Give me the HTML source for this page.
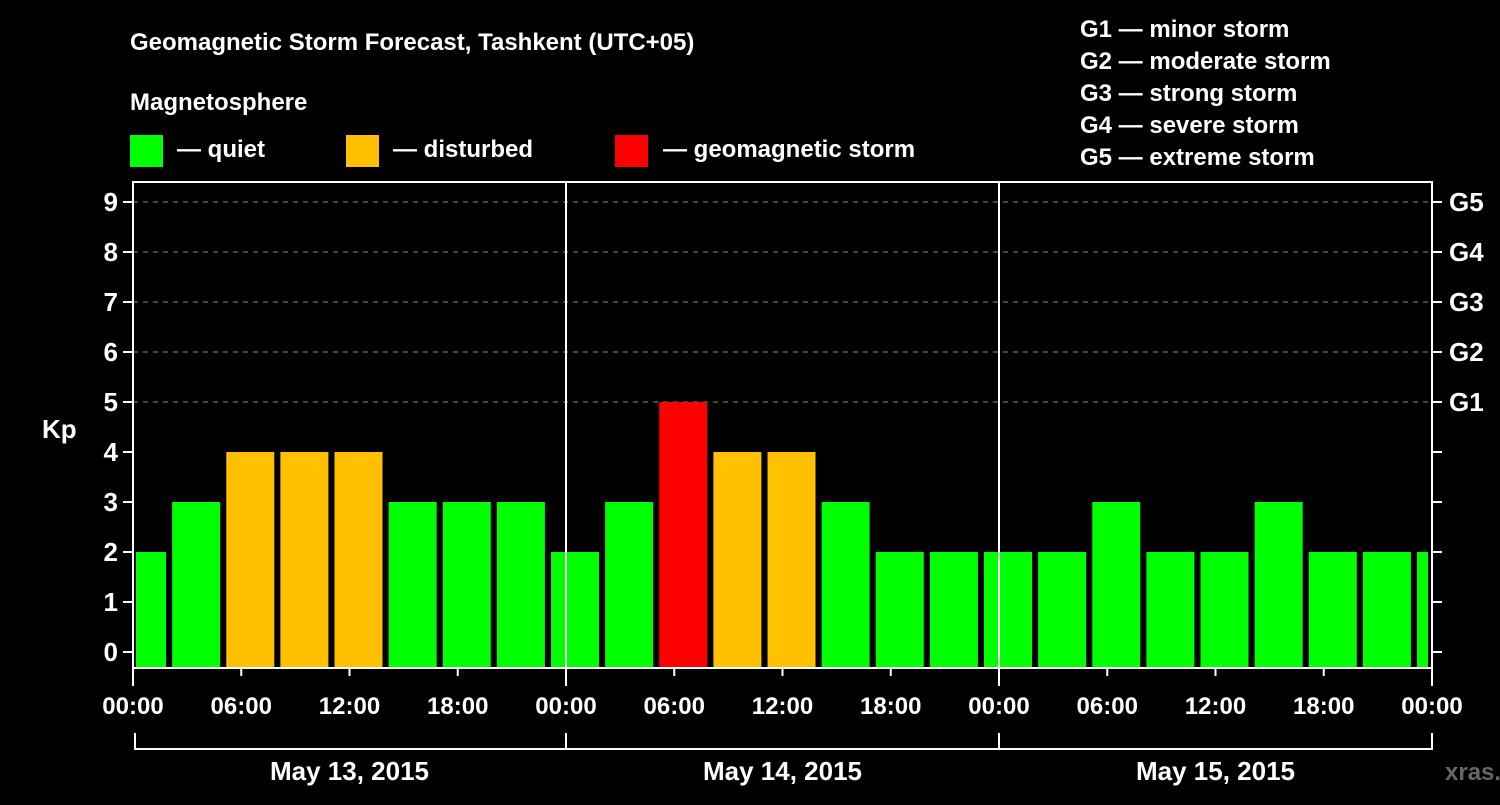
<!DOCTYPE html>
<html><head><meta charset="utf-8"><style>
body{margin:0;background:#000;width:1500px;height:800px;overflow:hidden}
svg text{font-family:"Liberation Sans",sans-serif;font-weight:bold;fill:#fff}
</style></head><body>
<svg width="1500" height="800">
<text x="130" y="50" font-size="24">Geomagnetic Storm Forecast, Tashkent (UTC+05)</text>
<text x="130" y="110" font-size="24">Magnetosphere</text>
<rect x="130" y="135" width="33" height="32" fill="#00ff00"/>
<text x="177" y="157" font-size="24">— quiet</text>
<rect x="346" y="135" width="33" height="32" fill="#ffc000"/>
<text x="393" y="157" font-size="24">— disturbed</text>
<rect x="615" y="135" width="33" height="32" fill="#ff0000"/>
<text x="663" y="157" font-size="24">— geomagnetic storm</text>
<g font-size="24">
<text x="1080" y="37">G1 — minor storm</text>
<text x="1080" y="69">G2 — moderate storm</text>
<text x="1080" y="101">G3 — strong storm</text>
<text x="1080" y="133">G4 — severe storm</text>
<text x="1080" y="165">G5 — extreme storm</text>
</g>
<text x="42" y="438" font-size="26">Kp</text>
<g id="plot"></g>
<text x="1445" y="780" font-size="24" fill="#666" style="fill:#666">xras.ru</text>
</svg>
<script>
const values=[2,3,4,4,4,3,3,3,2,3,5,4,4,3,2,2,2,2,3,2,2,3,2,2,2];
const yTicks=[0,1,2,3,4,5,6,7,8,9];
const gLabels=["G1","G2","G3","G4","G5"];
const xLabels=["00:00","06:00","12:00","18:00"];
const dayLabels=["May 13, 2015","May 14, 2015","May 15, 2015"];
const L=133,R=1432,T=182,B=668,NS="http://www.w3.org/2000/svg";
const dayW=(R-L)/3,hr=dayW/24;
const x=h=>L+h*hr, y=v=>652-50*v;
const g=document.getElementById('plot');
function mk(t,a,txt){const e=document.createElementNS(NS,t);for(const k in a)e.setAttribute(k,a[k]);if(txt!=null)e.textContent=txt;g.appendChild(e);return e;}
const cp=mk('clipPath',{id:'c'});cp.appendChild(Object.assign(document.createElementNS(NS,'rect'),{}));
cp.firstChild.setAttribute('x',L+3);cp.firstChild.setAttribute('y',T);cp.firstChild.setAttribute('width',R-L-7);cp.firstChild.setAttribute('height',B-T);
for(const v of [5,6,7,8,9]){const l=mk('line',{x1:L,x2:R,y1:y(v),y2:y(v),stroke:'#888','stroke-dasharray':'5,5'});

}
values.forEach((v,i)=>{const c=x(3*i+0.5);const r=mk('rect',{x:c-24,y:y(v),width:48,height:B-1-y(v),fill:v>=5?'#ff0000':v>=4?'#ffc000':'#00ff00','clip-path':'url(#c)'});

});
for(let d=1;d<3;d++){const l=mk('line',{x1:x(24*d),x2:x(24*d),y1:T,y2:B,stroke:'#fff','stroke-width':2});

}
const f=mk('rect',{x:L,y:T,width:R-L,height:B-T,fill:'none',stroke:'#fff','stroke-width':2});


yTicks.forEach(v=>{mk('line',{x1:L-10,x2:L,y1:y(v),y2:y(v),stroke:'#fff','stroke-width':2});mk('line',{x1:R,x2:R+10,y1:y(v),y2:y(v),stroke:'#fff','stroke-width':2});
const t=mk('text',{x:L-15,y:y(v)+9,'font-size':26,'text-anchor':'end'},v);

});
gLabels.forEach((s,i)=>{const t=mk('text',{x:R+17,y:y(5+i)+9,'font-size':26},s);

});
for(let k=0;k<=12;k++){const h=6*k;mk('line',{x1:x(h),x2:x(h),y1:B,y2:B+(k%4==0?18:8),stroke:'#fff','stroke-width':2});
const t=mk('text',{x:x(h),y:714,'font-size':24,'text-anchor':'middle'},xLabels[k%4]);

}
mk('line',{x1:L+2,x2:R,y1:749,y2:749,stroke:'#fff','stroke-width':2});
dayLabels.forEach((s,d)=>{const t=mk('text',{x:x(24*d+12),y:780,'font-size':26,'text-anchor':'middle'},s);

});
for(let d=0;d<=3;d++)mk('line',{x1:x(24*d)+(d==0?2:0),x2:x(24*d)+(d==0?2:0),y1:733,y2:750,stroke:'#fff','stroke-width':2});
</script>
</body></html>
